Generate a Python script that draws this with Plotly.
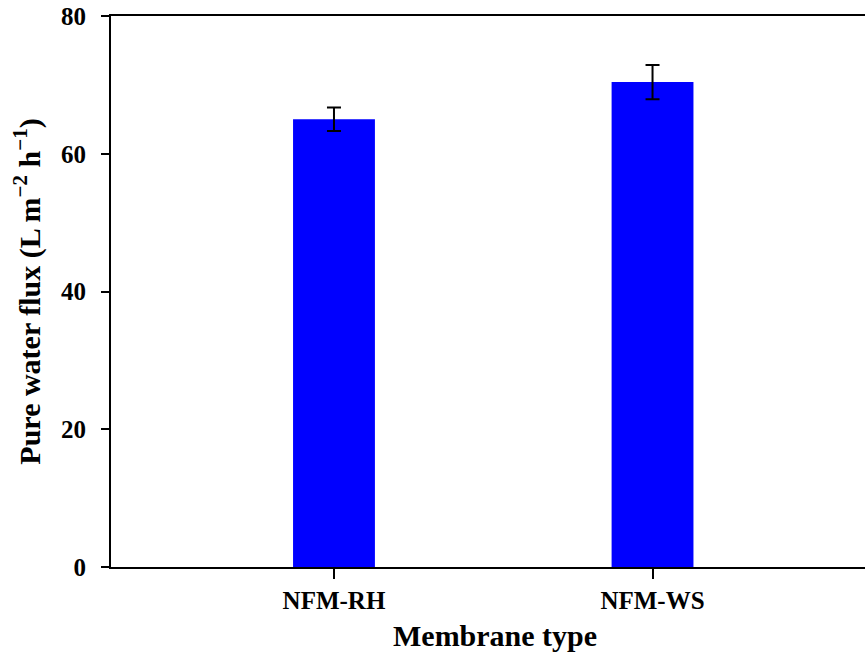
import plotly.graph_objects as go

# Membrane pure water flux data
membranes = ["NFM-RH", "NFM-WS"]
flux = [65.0, 70.4]
flux_err = [1.7, 2.5]
y_ticks = [0, 20, 40, 60, 80]

FONT = "Liberation Serif, Times New Roman, serif"

fig = go.Figure()
fig.add_trace(go.Bar(
    x=membranes,
    y=flux,
    width=0.257,
    marker=dict(color="#0000FF", line=dict(width=0)),
    error_y=dict(type="data", array=flux_err, visible=True,
                 color="black", thickness=2, width=7),
    showlegend=False,
))

fig.update_layout(
    width=865, height=657,
    margin=dict(l=111, r=0, t=16, b=90),
    paper_bgcolor="white", plot_bgcolor="white",
    font=dict(family=FONT, color="black"),
    xaxis=dict(
        range=[-0.7, 1.667],
        showline=True, linecolor="black", linewidth=2, mirror=True,
        ticks="outside", ticklen=10, tickwidth=2, tickcolor="black",
        tickfont=dict(family=FONT, size=25, color="black", weight="bold"),
        showgrid=False, zeroline=False,
    ),
    yaxis=dict(
        range=[0, 80], tickvals=y_ticks,
        showline=True, linecolor="black", linewidth=2,
        ticks="outside", ticklen=8, tickwidth=2, tickcolor="black",
        ticklabelstandoff=10,
        tickfont=dict(family=FONT, size=25, color="black", weight="bold"),
        showgrid=False, zeroline=False,
        title=dict(text="<b>Pure water flux (L m<sup>−2</sup> h<sup>−1</sup>)</b>",
                   font=dict(family=FONT, size=30, color="black"), standoff=12),
    ),
    annotations=[dict(
        text="<b>Membrane type</b>", xref="paper", yref="paper",
        x=(495 - 111) / 754, y=-(635 - 567) / 551, xanchor="center", yanchor="middle",
        showarrow=False, font=dict(family=FONT, size=30, color="black"),
    )],
)

fig.write_html("out.html")
